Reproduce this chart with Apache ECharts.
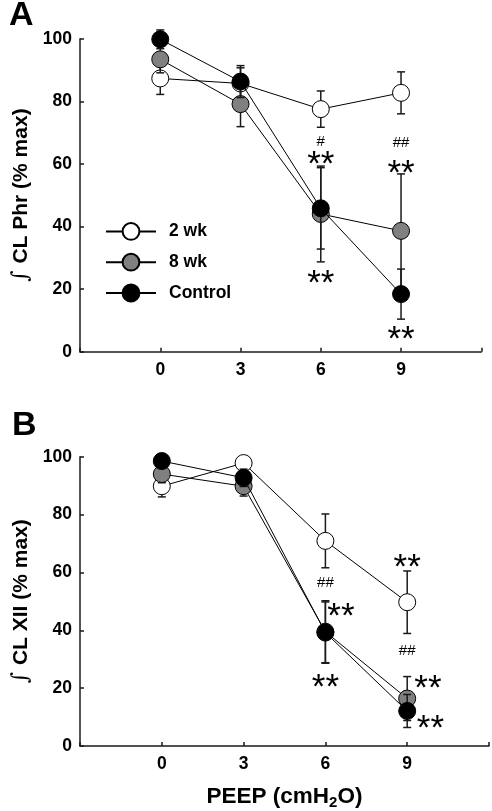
<!DOCTYPE html>
<html>
<head>
<meta charset="utf-8">
<script src="https://cdn.jsdelivr.net/npm/echarts@6/dist/echarts.min.js"></script>
<style>html,body{margin:0;padding:0;background:#fff}#c{width:492px;height:811px}</style>
</head>
<body>
<div id="c"></div>
<script>
// ---- data ----
const peep = [0, 3, 6, 9];
const xTickLabels = ['0', '3', '6', '9'];
const seriesNames = ['2 wk', '8 wk', 'Control'];

// Panel A: ∫CL Phr (% max)
const phr2wk = [87.3, 85.7, 77.5, 82.7];
const phr2wkErr = [5.1, 5.0, 5.8, 6.7];
const phr8wk = [93.4, 79.1, 44.0, 38.6];
const phr8wkErr = [4.3, 7.2, 15.3, 18.2];
const phrCtl = [99.8, 86.3, 45.8, 18.4];
const phrCtlErr = [3.0, 5.1, 13.0, 8.0];

// Panel B: ∫CL XII (% max)
const xii2wk = [89.8, 97.8, 70.9, 49.7];
const xii2wkErr = [3.7, 2.0, 9.3, 10.8];
const xii8wk = [94.0, 89.8, 39.5, 16.4];
const xii8wkErr = [3.0, 3.4, 10.7, 7.6];
const xiiCtl = [98.5, 92.7, 39.2, 12.1];
const xiiCtlErr = [2.0, 3.0, 10.6, 5.7];

// significance marks [x, y, text]
const marksA = [[6, 67.1, '#'], [6, 62.3, '**'], [6, 24.5, '**'], [9, 66.6, '##'], [9, 59.6, '**'], [9, 6.4, '**']];
const marksB = [[9, 64.4, '**'], [6, 56.5, '##'], [6.57, 47.5, '**'], [6, 23.2, '**'], [9, 32.8, '##'], [9.76, 22.6, '**'], [9.85, 9.0, '**']];

// ---- chart ----
const FONT = 'Liberation Sans, Arial, sans-serif';
const fills = ['#ffffff', '#808080', '#000000'];
const chart = echarts.init(document.getElementById('c'), null, {renderer: 'canvas'});

function pts(vals) { return peep.map((p, i) => [p, vals[i]]); }
function errPts(vals, errs) { return peep.map((p, i) => [p, vals[i], errs[i]]); }

function errItem(params, api) {
  const x = api.value(0), y = api.value(1), e = api.value(2);
  const t = api.coord([x, y + e]);
  const b = api.coord([x, y - e]);
  const hw = 4;
  const st = {stroke: '#1a1a1a', lineWidth: 1.5};
  return {type: 'group', children: [
    {type: 'line', shape: {x1: t[0], y1: t[1], x2: b[0], y2: b[1]}, style: st},
    {type: 'line', shape: {x1: t[0] - hw, y1: t[1], x2: t[0] + hw, y2: t[1]}, style: st},
    {type: 'line', shape: {x1: b[0] - hw, y1: b[1], x2: b[0] + hw, y2: b[1]}, style: st}
  ]};
}

function markRenderer(list) {
  return function (params, api) {
    const m = list[params.dataIndex];
    const c = api.coord([m[0], m[1]]);
    const star = m[2].indexOf('*') >= 0;
    return {type: 'text', x: c[0], y: c[1] + (star ? 9 : 0), style: {
      text: m[2], fill: '#000',
      font: star ? ('normal 35px ' + FONT) : ('normal 15px ' + FONT),
      textAlign: 'center', textVerticalAlign: 'middle'
    }};
  };
}

function makeSeries(idx, sets) {
  const out = [];
  sets.forEach((s, k) => {
    out.push({type: 'custom', xAxisIndex: idx, yAxisIndex: idx, z: 2 + k * 2, silent: true,
      renderItem: errItem, data: errPts(s[0], s[1])});
    out.push({type: 'line', name: seriesNames[k], xAxisIndex: idx, yAxisIndex: idx, z: 3 + k * 2,
      data: pts(s[0]), symbol: 'circle', symbolSize: 17,
      itemStyle: {color: fills[k], borderColor: '#000', borderWidth: 1},
      lineStyle: {color: '#000', width: 1}});
  });
  return out;
}

const axisLine = {show: true, onZero: false, lineStyle: {color: '#1a1a1a', width: 1.5}};
const axisTick = {show: true, inside: true, length: 4, lineStyle: {color: '#1a1a1a', width: 1.5}};
const labelStyle = {color: '#000', fontFamily: FONT, fontWeight: 'bold', fontSize: 17.5};

function xAx(gi, withName) {
  const a = {type: 'value', gridIndex: gi, min: -3, max: 12, interval: 3,
    axisLine, axisTick, splitLine: {show: false},
    axisLabel: Object.assign({margin: 9, formatter: v => (xTickLabels.indexOf(String(v)) >= 0 ? String(v) : '')}, labelStyle)};
  if (withName) {
    a.name = '{a|PEEP (cmH}{s|2}{a|O)}';
    a.nameLocation = 'middle';
    a.nameGap = 38;
    a.nameTextStyle = {rich: {
      a: {fontFamily: FONT, fontWeight: 'bold', fontSize: 22.5, lineHeight: 26, color: '#000'},
      s: {fontFamily: FONT, fontWeight: 'bold', fontSize: 15, lineHeight: 13, verticalAlign: 'bottom', color: '#000'}
    }};
  }
  return a;
}
function yAx(gi, name) {
  return {type: 'value', gridIndex: gi, min: 0, max: 100, interval: 20,
    axisLine, axisTick, splitLine: {show: false},
    axisLabel: Object.assign({margin: 8}, labelStyle),
    name: '{i|∫ }{t|' + name + '}', nameLocation: 'middle', nameGap: 40,
    nameTextStyle: {rich: {
      i: {fontFamily: 'DejaVu Serif, serif', fontSize: 22, color: '#000', lineHeight: 24},
      t: {fontFamily: FONT, fontWeight: 'bold', fontSize: 21, color: '#000', lineHeight: 24}
    }}};
}

const option = {
  animation: false,
  backgroundColor: '#fff',
  grid: [
    {left: 80, top: 38.7, width: 401.3, height: 313},
    {left: 80, top: 456.7, width: 410.7, height: 295}
  ],
  xAxis: [xAx(0, false), xAx(1, true)],
  yAxis: [yAx(0, 'CL Phr (% max)'), yAx(1, 'CL XII (% max)')],
  legend: {
    data: seriesNames, orient: 'vertical', left: 100, top: 217,
    itemWidth: 50, itemHeight: 21, itemGap: 12,
    textStyle: {fontFamily: FONT, fontWeight: 'bold', fontSize: 17.5, color: '#000', padding: [0, 0, 0, 8]},
    selectedMode: false
  },
  graphic: [
    {type: 'text', left: 9, top: -1, style: {text: 'A', font: 'bold 34px ' + FONT, fill: '#000'}},
    {type: 'text', left: 12, top: 409, style: {text: 'B', font: 'bold 34px ' + FONT, fill: '#000'}}
  ],
  series: [].concat(
    makeSeries(0, [[phr2wk, phr2wkErr], [phr8wk, phr8wkErr], [phrCtl, phrCtlErr]]),
    makeSeries(1, [[xii2wk, xii2wkErr], [xii8wk, xii8wkErr], [xiiCtl, xiiCtlErr]]),
    [
      {type: 'custom', xAxisIndex: 0, yAxisIndex: 0, z: 10, silent: true, renderItem: markRenderer(marksA), data: marksA.map(m => [m[0], m[1]])},
      {type: 'custom', xAxisIndex: 1, yAxisIndex: 1, z: 10, silent: true, renderItem: markRenderer(marksB), data: marksB.map(m => [m[0], m[1]])}
    ]
  )
};
chart.setOption(option);
</script>
</body>
</html>
